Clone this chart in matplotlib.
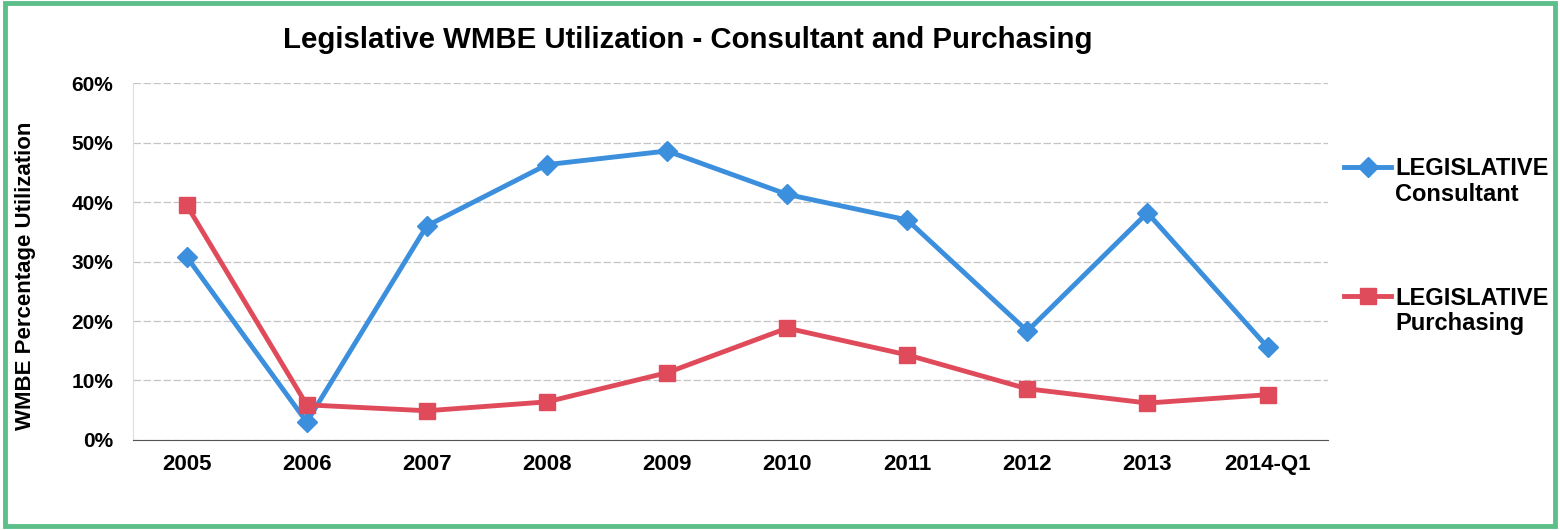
import numpy as np
import matplotlib.pyplot as plt
from matplotlib.patches import Rectangle
from matplotlib.ticker import PercentFormatter

plt.rc('font', family='Liberation Sans', weight='bold')
plt.rc('axes', labelweight='bold')

years = ['2005', '2006', '2007', '2008', '2009', '2010', '2011', '2012', '2013', '2014-Q1']
consultant = [30.8, 3.0, 36.0, 46.3, 48.6, 41.3, 37.0, 18.3, 38.2, 15.6]
purchasing = [39.5, 5.9, 4.9, 6.4, 11.3, 18.8, 14.3, 8.6, 6.2, 7.6]

fig = plt.figure(figsize=(15.6, 5.3), dpi=100)
ax = fig.add_axes([0.085, 0.170, 0.766, 0.673])

x = np.arange(len(years))
ax.plot(x, consultant, color='#3b8fdd', lw=3.5, marker='D', ms=10,
        label='LEGISLATIVE')
ax.plot(x, purchasing, color='#e04b5c', lw=3.5, marker='s', ms=11,
        label='LEGISLATIVE')

ax.set_xlim(-0.45, 9.5)
ax.set_ylim(0, 60)
ax.set_yticks(np.arange(0, 61, 10))
ax.yaxis.set_major_formatter(PercentFormatter(decimals=0))
ax.set_xticks(x)
ax.set_xticklabels(years)
ax.tick_params(length=0, labelsize=16, pad=10)
ax.tick_params(axis='y', labelsize=15, pad=14)
ax.grid(axis='y', color='#c4c4c4', lw=0.9, ls=(0, (6, 2)))
for s in ['top', 'right']:
    ax.spines[s].set_visible(False)
ax.spines['left'].set_color('#dddddd')
ax.spines['bottom'].set_color('#555555')
ax.spines['bottom'].set_linestyle((0, (5, 1)))

ax.set_ylabel('WMBE Percentage Utilization', fontsize=16)
ax.yaxis.set_label_coords(-0.081, 0.46)
fig.text(0.441, 0.925, 'Legislative WMBE Utilization - Consultant and Purchasing',
         ha='center', va='center', fontsize=21.2, weight='bold')

leg = ax.legend(loc='upper left', bbox_to_anchor=(1.004, 0.825), frameon=False,
                fontsize=17, labelspacing=4.5, handlelength=2.0,
                handletextpad=0.15, borderpad=0)
for t, sub in zip(leg.get_texts(), ['Consultant', 'Purchasing']):
    ax.annotate(sub, xy=(0, 0), xycoords=t, xytext=(0, -2),
                textcoords='offset points', va='top', ha='left',
                fontsize=17, weight='bold', annotation_clip=False, zorder=6)

fig.patches.append(Rectangle((0.003, 0.008), 0.994, 0.986, transform=fig.transFigure,
                             fill=False, ec='#5cbf8a', lw=3.5))

fig.canvas.draw()
fig.savefig('out.png', dpi=100)
